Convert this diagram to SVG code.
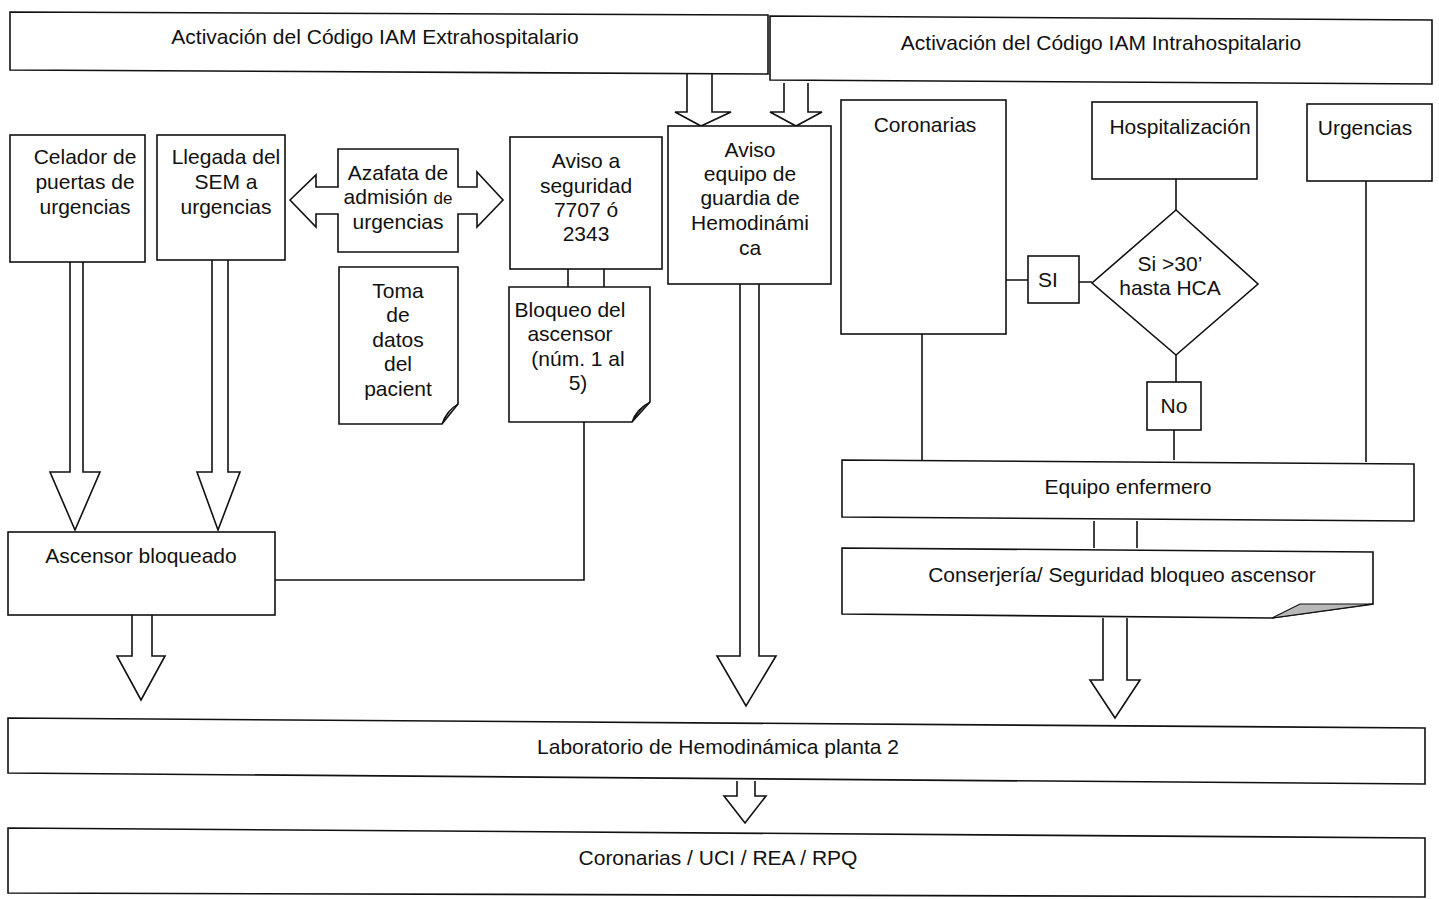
<svg xmlns="http://www.w3.org/2000/svg" width="1439" height="899" viewBox="0 0 1439 899">
<style>
.b{fill:#fff;stroke:#111;stroke-width:1.6}
.l{fill:none;stroke:#111;stroke-width:1.6}
.f{fill:#b8b8b8;stroke:#111;stroke-width:1.2}
text{font-family:"Liberation Sans",Arial,sans-serif;font-size:21px;fill:#111;text-anchor:middle}
</style>
<rect width="1439" height="899" fill="#fff"/>
<g id="connectors">
<path class="b" d="M687,72 L687,112 L675,112 L701,126 L731,112 L712,112 L712,72"/>
<path class="b" d="M784,83 L784,112 L770,112 L796,126 L822,112 L808,112 L808,83"/>
<path class="b" d="M70,262 L70,472 L50,472 L75,530 L100,472 L83,472 L83,262"/>
<path class="b" d="M212,260 L212,472 L197,472 L218,530 L240,472 L228,472 L228,260"/>
<path class="b" d="M132,615 L132,656 L117,656 L141,700 L165,656 L152,656 L152,615"/>
<path class="b" d="M740,284 L740,656 L717,656 L746,706 L776,656 L759,656 L759,284"/>
<path class="b" d="M1103,618 L1103,680 L1090,680 L1115,718 L1140,680 L1127,680 L1127,618"/>
<path class="b" d="M737,781 L737,796 L724,796 L745,823 L766,796 L755,796 L755,781"/>
<path class="l" d="M568,269 V287 M604,269 V287"/>
<path class="l" d="M584,422 V580 H275"/>
<path class="l" d="M922,334 V460"/>
<path class="l" d="M1006,280 H1028 M1079,282 H1092"/>
<path class="l" d="M1176,179 V210"/>
<path class="l" d="M1176,355 V382 M1174,430 V460"/>
<path class="l" d="M1366,181 V462"/>
<path class="l" d="M1094,521 V548 M1137,521 V548"/>
</g>
<g id="extra"><path class="b" d="M10,12 L768,15 L768,74 L10,70 Z"/><text x="375" y="44">Activación del Código IAM Extrahospitalario</text></g>
<g id="intra"><path class="b" d="M770,16 L1432,20 L1432,84 L770,80 Z"/><text x="1101" y="50">Activación del Código IAM Intrahospitalario</text></g>
<g id="aviso-equipo"><rect class="b" x="668" y="126" width="163" height="158"/>
<text x="750" y="157">Aviso</text><text x="750" y="181">equipo de</text><text x="750" y="205">guardia de</text><text x="750" y="230">Hemodinámi</text><text x="750" y="255">ca</text></g>
<g id="celador"><rect class="b" x="10" y="135" width="135" height="127"/>
<text x="85" y="164">Celador de</text><text x="85" y="189">puertas de</text><text x="85" y="214">urgencias</text></g>
<g id="llegada"><rect class="b" x="157" y="135" width="128" height="125"/>
<text x="226" y="164">Llegada del</text><text x="226" y="189">SEM a</text><text x="226" y="214">urgencias</text></g>
<g id="azafata"><path class="b" d="M290,200 L316,175 L316,187 L338,187 L338,149 L458,149 L458,187 L477,187 L477,172 L503,200 L477,227 L477,214 L458,214 L458,252 L338,252 L338,214 L316,214 L316,227 Z"/>
<text x="398" y="180">Azafata de</text><text x="398" y="204">admisión <tspan font-size="17">de</tspan></text><text x="398" y="229">urgencias</text></g>
<g id="aviso-seguridad"><rect class="b" x="510" y="137" width="152" height="132"/>
<text x="586" y="168">Aviso a</text><text x="586" y="193">seguridad</text><text x="586" y="217">7707 ó</text><text x="586" y="241">2343</text></g>
<g id="toma"><path class="b" d="M339,267 L458,267 L458,404 L442,424 L339,424 Z"/><path class="f" d="M442,424 Q446,411 458,404 Q449,409 442,424 Z"/>
<text x="398" y="298">Toma</text><text x="398" y="322">de</text><text x="398" y="347">datos</text><text x="398" y="371">del</text><text x="398" y="396">pacient</text></g>
<g id="bloqueo"><path class="b" d="M509,287 L650,287 L650,402 L632,422 L509,422 Z"/><path class="f" d="M632,422 Q636,409 650,402 Q641,407 632,422 Z"/>
<text x="570" y="317">Bloqueo del</text><text x="570" y="341">ascensor</text><text x="578" y="366">(núm. 1 al</text><text x="578" y="390">5)</text></g>
<g id="coronarias"><rect class="b" x="841" y="100" width="165" height="234"/><text x="925" y="132">Coronarias</text></g>
<g id="hospitalizacion"><rect class="b" x="1092" y="102" width="165" height="77"/><text x="1180" y="134">Hospitalización</text></g>
<g id="urgencias"><rect class="b" x="1307" y="104" width="125" height="77"/><text x="1365" y="135">Urgencias</text></g>
<g id="decision"><path class="b" d="M1176,210 L1258,284 L1176,355 L1092,283 Z"/>
<text x="1170" y="271">Si &gt;30’</text><text x="1170" y="295" font-size="17">hasta HCA</text></g>
<g id="si"><rect class="b" x="1028" y="256" width="51" height="47"/><text x="1048" y="287">SI</text></g>
<g id="no"><rect class="b" x="1147" y="382" width="54" height="48"/><text x="1174" y="413">No</text></g>
<g id="equipo"><path class="b" d="M842,460 L1414,464 L1414,521 L842,517 Z"/><text x="1128" y="494">Equipo enfermero</text></g>
<g id="conserjeria"><path class="b" d="M842,548 L1373,552 L1373,604 L1272,618 L842,614 Z"/><path class="f" d="M1272,618 L1300,604 L1373,604 Z"/>
<text x="1122" y="582">Conserjería/ Seguridad bloqueo ascensor</text></g>
<g id="ascensor"><rect class="b" x="8" y="532" width="267" height="83"/><text x="141" y="563">Ascensor bloqueado</text></g>
<g id="laboratorio"><path class="b" d="M8,718 L1425,728 L1425,784 L8,773 Z"/><text x="718" y="754">Laboratorio de Hemodinámica planta 2</text></g>
<g id="destino"><path class="b" d="M8,828 L1425,838 L1425,897 L8,893 Z"/><text x="718" y="865">Coronarias / UCI / REA / RPQ</text></g>
</svg>
